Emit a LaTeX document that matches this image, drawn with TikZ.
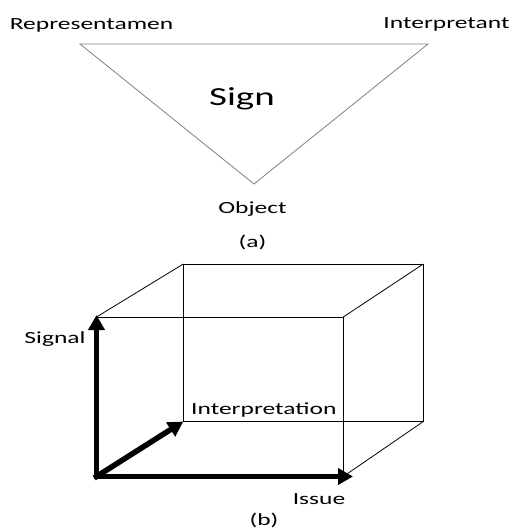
\documentclass[tikz,border=0pt]{standalone}
\usepackage{fontspec}
\setmainfont{Carlito}[FakeStretch=1.5]
\usetikzlibrary{arrows.meta}

\begin{document}
\begin{tikzpicture}[x=1pt,y=-1pt,
  lbl/.style={anchor=base,inner sep=0pt,font=\fontsize{17}{20}\selectfont},
  edge/.style={line width=0.8pt},
  axis/.style={line width=5.5pt,line cap=rect,-{Triangle[length=15pt,width=16pt]}}]
\useasboundingbox (0,0) rectangle (513,531);

% (a) the sign triangle
\coordinate (rep) at (80,44);
\coordinate (int) at (428,44);
\coordinate (obj) at (254,184);
\draw[edge,gray] (rep)--(int)--(obj)--cycle;
\node[lbl] (replabel) at (91.5,29) {Representamen};
\node[lbl] (intlabel) at (446.5,28.5) {Interpretant};
\node[lbl,font=\fontsize{26}{30}\selectfont] (sign) at (242,105) {Sign};
\node[lbl] (objlabel) at (252.5,213) {Object};
\node[lbl] (capa) at (252.5,247) {(a)};

% (b) the cube
\coordinate (ftl) at (96.5,317);
\coordinate (ftr) at (343.3,317);
\coordinate (fbr) at (343.3,476.5);
\coordinate (fbl) at (96.5,476.5);
\coordinate (btl) at (183.3,264);
\coordinate (btr) at (423.3,264);
\coordinate (bbr) at (423.3,421.5);
\coordinate (bbl) at (183.3,421.5);
\draw[edge] (ftl)--(ftr)--(fbr);
\draw[edge] (btl)--(btr)--(bbr)--(bbl)--cycle;
\draw[edge] (ftl)--(btl);
\draw[edge] (ftr)--(btr);
\draw[edge] (fbr)--(bbr);

\coordinate (sigtip) at (96.5,315);
\coordinate (isstip) at (353,476.5);
\draw[axis] (fbl)--(sigtip);
\draw[axis] (fbl)--(isstip);
\draw[axis] (fbl)--(bbl);

\node[lbl] (signal) at (55,343) {Signal};
\node[lbl,anchor=base west] (interp) at (191,414) {Interpretation};
\node[lbl] (issue) at (319,504) {Issue};
\node[lbl] (capb) at (264,525) {(b)};
\end{tikzpicture}
\end{document}
